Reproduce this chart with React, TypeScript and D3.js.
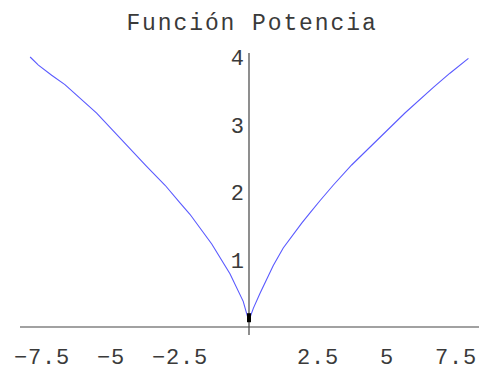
import React from "react";
import * as d3 from "d3";

// Sampled points of the curve, left branch then right branch
const leftX = [-7.93, -7.63, -7.15, -6.67, -5.52, -3.71, -3.04, -2.5, -2.14, -1.35, -0.69, -0.21, -0.03];
const leftY = [4.0, 3.88, 3.73, 3.59, 3.17, 2.38, 2.1, 1.84, 1.67, 1.23, 0.79, 0.38, 0.12];
const rightX = [0, 0.16, 0.4, 0.88, 1.24, 1.91, 2.21, 2.57, 3.05, 3.72, 5.65, 6.68, 7.28, 7.95];
const rightY = [0.1, 0.28, 0.5, 0.91, 1.17, 1.54, 1.69, 1.87, 2.1, 2.4, 3.17, 3.55, 3.76, 3.98];

const xTicks = [-7.5, -5, -2.5, 2.5, 5, 7.5];
const yTicks = [1, 2, 3, 4];
const title = "Función Potencia";
const dotPoint = { x: 0, y: 0.13 };

const W = 483;
const H = 370;

export default function App() {
  const x = d3.scaleLinear().domain([0, 8]).range([249, 469.8]);
  const y = d3.scaleLinear().domain([0, 4]).range([327, 57]);
  const line = d3
    .line<[number, number]>()
    .x((d) => x(d[0]))
    .y((d) => y(d[1]));
  const leftPts = leftX.map((v, i) => [v, leftY[i]] as [number, number]);
  const rightPts = rightX.map((v, i) => [v, rightY[i]] as [number, number]);
  const fmt = d3.format("");
  const font = "'Liberation Mono', 'Courier New', monospace";

  return (
    <svg
      width={W}
      height={H}
      style={{ position: "absolute", left: 0, top: 0, background: "#fff" }}
    >
      <text
        x={252}
        y={30}
        textAnchor="middle"
        fontFamily={font}
        fontSize={23}
        letterSpacing={1.9}
        fill="#3a3a3a"
      >
        {title}
      </text>
      {/* axes */}
      <line x1={20} x2={479} y1={y(0)} y2={y(0)} stroke="#444" strokeWidth={1.2} />
      <line x1={x(0)} x2={x(0)} y1={53} y2={335} stroke="#444" strokeWidth={1.2} />
      {xTicks.map((t) => (
        <text
          key={"x" + t}
          x={x(t)}
          y={364}
          textAnchor="middle"
          fontFamily={font}
          fontSize={22}
          letterSpacing={0.8}
          fill="#3a3a3a"
        >
          {fmt(t)}
        </text>
      ))}
      {yTicks.map((t) => (
        <text
          key={"y" + t}
          x={244}
          y={y(t) + 8}
          textAnchor="end"
          fontFamily={font}
          fontSize={22}
          fill="#3a3a3a"
        >
          {fmt(t)}
        </text>
      ))}
      <path d={line(leftPts) || ""} fill="none" stroke="#5a5aff" strokeWidth={1.1} />
      <path d={line(rightPts) || ""} fill="none" stroke="#5a5aff" strokeWidth={1.1} />
      <rect
        x={x(dotPoint.x) - 2}
        y={y(dotPoint.y) - 5}
        width={4}
        height={9}
        fill="#000"
      />
    </svg>
  );
}
